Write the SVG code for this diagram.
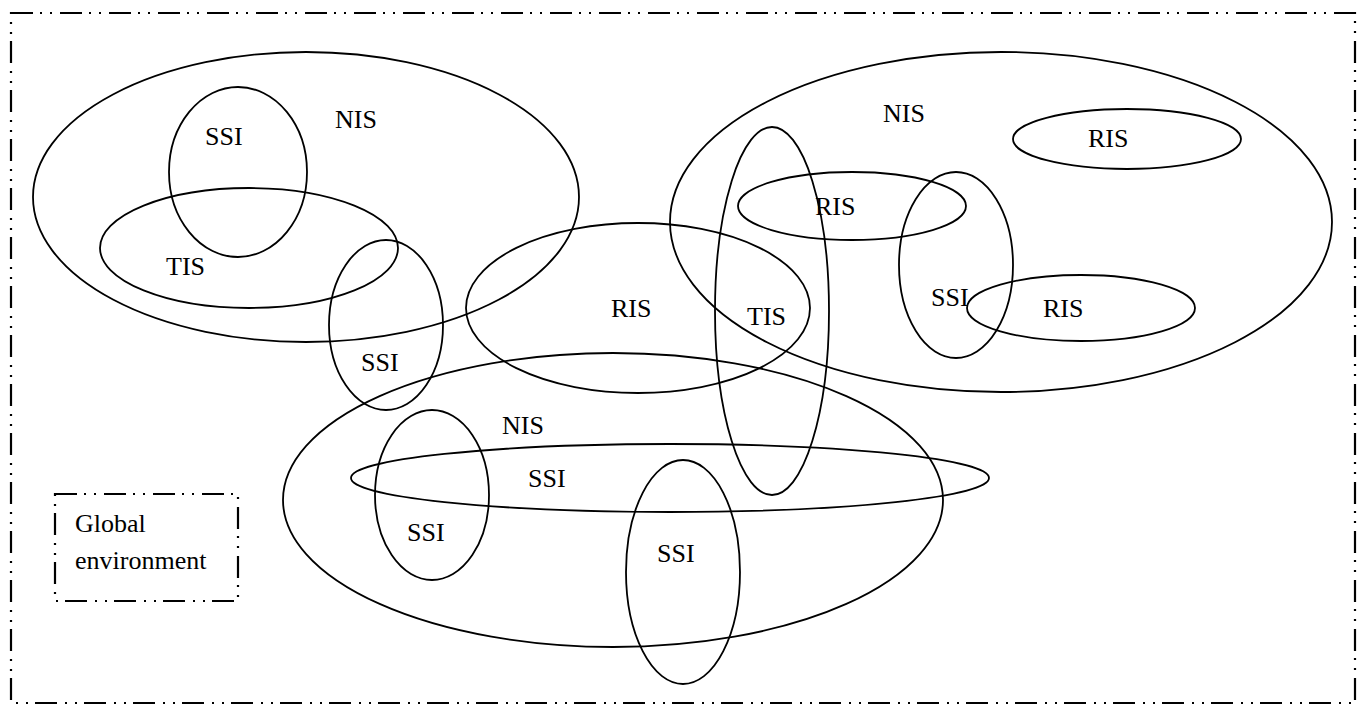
<svg xmlns="http://www.w3.org/2000/svg" width="1365" height="707" viewBox="0 0 1365 707">
<style>
.e{fill:none;stroke:#000;stroke-width:1.8}
.b{fill:none;stroke:#000;stroke-width:2.2;stroke-dasharray:22 7 2 8 2 8}
text{font-family:"Liberation Serif","Times New Roman",serif;font-size:26px;fill:#000}
</style>
<rect width="1365" height="707" fill="#fff"/>
<g id="border"><rect class="b" x="11" y="13" width="1344" height="690"/></g>
<g id="nis-left"><ellipse class="e" cx="306" cy="197" rx="273" ry="145"/><text x="335" y="128">NIS</text></g>
<g id="ssi-1"><ellipse class="e" cx="238" cy="172" rx="69" ry="85"/><text x="205" y="145">SSI</text></g>
<g id="tis-left"><ellipse class="e" cx="249" cy="248" rx="149" ry="60"/><text x="166" y="275">TIS</text></g>
<g id="ssi-2"><ellipse class="e" cx="386" cy="325" rx="57" ry="85"/><text x="361" y="371">SSI</text></g>
<g id="ris-center"><ellipse class="e" cx="638" cy="308" rx="172" ry="85"/><text x="611" y="317">RIS</text></g>
<g id="nis-right"><ellipse class="e" cx="1001" cy="222" rx="331" ry="170"/><text x="883" y="122">NIS</text></g>
<g id="ris-topright"><ellipse class="e" cx="1127" cy="139" rx="114" ry="30"/><text x="1088" y="147">RIS</text></g>
<g id="ris-inner"><ellipse class="e" cx="852" cy="206" rx="114" ry="34"/><text x="815" y="215">RIS</text></g>
<g id="tis-vertical"><ellipse class="e" cx="772" cy="311" rx="57" ry="184"/><text x="747" y="325">TIS</text></g>
<g id="ssi-3"><ellipse class="e" cx="956" cy="265" rx="57" ry="93"/><text x="931" y="306">SSI</text></g>
<g id="ris-right"><ellipse class="e" cx="1081" cy="308" rx="114" ry="33"/><text x="1043" y="317">RIS</text></g>
<g id="nis-bottom"><ellipse class="e" cx="613" cy="500" rx="330" ry="147"/><text x="502" y="434">NIS</text></g>
<g id="ssi-horizontal"><ellipse class="e" cx="670" cy="478" rx="319" ry="34"/><text x="528" y="487">SSI</text></g>
<g id="ssi-4"><ellipse class="e" cx="432" cy="495" rx="57" ry="85"/><text x="407" y="541">SSI</text></g>
<g id="ssi-5"><ellipse class="e" cx="683" cy="572" rx="57" ry="112"/><text x="657" y="562">SSI</text></g>
<g id="global"><rect class="b" x="55" y="494" width="183" height="107"/><text x="75" y="532">Global</text><text x="75" y="569">environment</text></g>
<g id="connectors"></g>
</svg>
